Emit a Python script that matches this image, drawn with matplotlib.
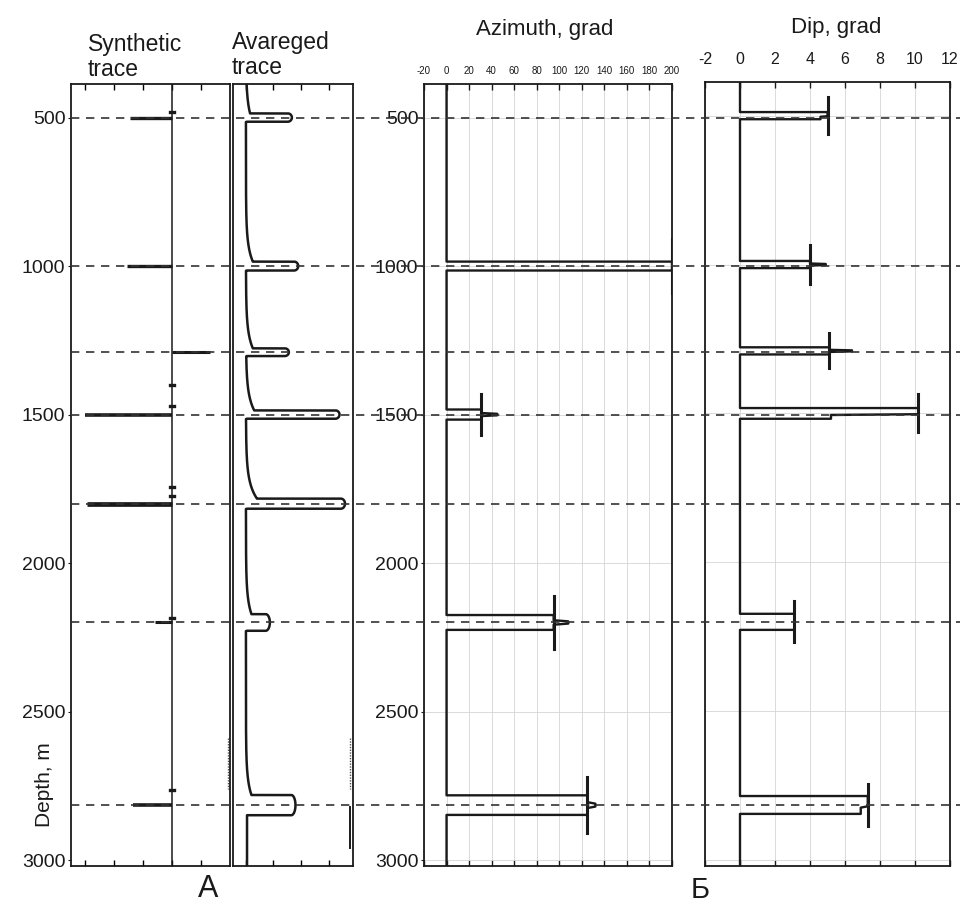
import numpy as np
import matplotlib
matplotlib.use("Agg")
import matplotlib.pyplot as plt
from matplotlib import transforms
from matplotlib.lines import Line2D

plt.rcParams['font.family'] = ['Liberation Sans', 'DejaVu Sans']
plt.rcParams['axes.unicode_minus'] = False

# ---------------- data ----------------
depth_ticks = [500, 1000, 1500, 2000, 2500, 3000]
horizon_depths = [500, 1000, 1290, 1500, 1800, 2200, 2815]

# synthetic trace: spike amplitude at each horizon
synth_amp = [-1.45, -1.55, 1.30, -3.00, -2.95, -0.60, -1.35]
synth_lw = [2.4, 2.4, 2.2, 2.6, 3.4, 2.2, 2.6]
synth_wiggle_depth = [480, 1400, 1470, 1745, 1775, 2185, 2765]
synth_wiggle_amp = [0.07, 0.08, 0.08, 0.08, 0.08, 0.06, 0.08]

# averaged trace
avg_amp = [1.67, 1.90, 1.56, 3.40, 3.60, 0.87, 1.80]
avg_halfwidth = [14, 15, 13, 14, 17, 28, 34]
avg_lead = [0.15, 0.25, 0.25, 0.30, 0.40, 0.20, 0.20]

# azimuth, grad
az_depth = [1000, 1500, 2200, 2815]
az_top = [200, 31, 95, 125]
az_bot = [200, 31, 95, 125]
az_tip = [200, 45, 108, 132]
az_halfwidth = [15, 17, 25, 33]
az_bar = [92, 69, 90, 95]

# dip, grad
dip_depth = [500, 1000, 1290, 1500, 2200, 2815]
dip_top = [5.0, 4.0, 5.1, 10.2, 3.1, 7.3]
dip_bot = [4.6, 4.0, 5.1, 5.2, 3.1, 6.9]
dip_tip = [5.0, 4.9, 6.4, 10.2, 3.1, 7.3]
dip_halfwidth = [12, 12, 12, 18, 27, 30]
dip_bar = [62, 67, 59, 64, 69, 72]

az_ticks = list(range(-20, 201, 20))
dip_ticks = list(range(-2, 13, 2))

YTOP, YBOT = 387, 3020
INK = '#1a1a1a'

W, H = 960, 908
fig = plt.figure(figsize=(W / 100, H / 100), dpi=100)


def px_axes(x0, x1, y0, y1):
    return fig.add_axes([x0 / W, 1 - y1 / H, (x1 - x0) / W, (y1 - y0) / H])


axA1 = px_axes(71, 230, 84, 866)
axA2 = px_axes(233, 353, 84, 866)
axB1 = px_axes(424, 672, 84, 866)
axB2 = px_axes(705, 950, 82, 866)

for ax in (axA1, axA2, axB1, axB2):
    ax.set_ylim(YBOT, YTOP)
    for s in ax.spines.values():
        s.set_linewidth(1.3)
        s.set_color(INK)

# ---- A1: synthetic trace ----
axA1.set_xlim(-3.5, 2.0)
axA1.plot([0, 0], [YTOP, YBOT], color=INK, lw=1.1)
for d, a, lw in zip(horizon_depths, synth_amp, synth_lw):
    axA1.plot([0, a], [d, d], color=INK, lw=lw, solid_capstyle='butt')
for d, a in zip(synth_wiggle_depth, synth_wiggle_amp):
    axA1.plot([-a, a], [d, d], color=INK, lw=2.4)
axA1.plot([1.92, 1.92], [2590, 2760], color='#555', lw=1.0, ls=(0, (1, 1)))

# ---- A2: averaged trace ----
axA2.set_xlim(-0.47, 3.89)
xs, ys = [], []
prev = YTOP
for d, P, w, lead in zip(horizon_depths, avg_amp, avg_halfwidth, avg_lead):
    seg = np.linspace(prev, d - w, 200)
    xs += list(lead * np.exp(-(d - w - seg) / 55.0))
    ys += list(seg)
    r = min(0.15, P / 3)
    th = np.linspace(np.pi / 2, -np.pi / 2, 30)
    xs += list(P - r + r * np.cos(th))
    ys += list(d - w * np.sin(th))
    xs += [0.04]
    ys += [d + w]
    prev = d + w + 1
seg = np.linspace(prev, YBOT, 50)
xs += [0.04] * len(seg)
ys += list(seg)
axA2.plot(xs, ys, color=INK, lw=1.8)
axA2.plot([3.78, 3.78], [2590, 2760], color='#555', lw=1.0, ls=(0, (1, 1)))
axA2.plot([3.78, 3.78], [2820, 2960], color=INK, lw=1.4)


# ---- B panels ----
def event_path(depths, tops, bots, tips, hws):
    px, py = [0], [YTOP]
    for d, t, b, tip, w in zip(depths, tops, bots, tips, hws):
        px += [0, t, t, tip, tip, b, b, 0]
        py += [d - w, d - w, d - 0.3 * w, d - 0.15 * w, d + 0.15 * w,
               d + 0.3 * w, d + w, d + w]
    px += [0]
    py += [YBOT]
    return px, py


def style_b(ax, ticks, fs, pad):
    ax.set_xticks(ticks)
    ax.grid(True, color='#d4d4d4', lw=0.6)
    ax.set_axisbelow(True)
    ax.tick_params(axis='x', direction='in', top=True, bottom=True,
                   labeltop=True, labelbottom=False, length=4, width=1.0,
                   labelsize=fs, pad=pad, colors=INK)


axB1.set_xlim(-20, 200)
style_b(axB1, az_ticks, 7, 6)
x, y = event_path(az_depth, az_top, az_bot, az_tip, az_halfwidth)
axB1.plot(x, y, color=INK, lw=1.7)
for d, t, b in zip(az_depth, az_top, az_bar):
    axB1.plot([t, t], [d - b, d + b], color=INK, lw=2.2)

axB2.set_xlim(-2, 12)
style_b(axB2, dip_ticks, 11.5, 11)
x, y = event_path(dip_depth, dip_top, dip_bot, dip_tip, dip_halfwidth)
axB2.plot(x, y, color=INK, lw=1.7)
for d, t, b in zip(dip_depth, dip_top, dip_bar):
    axB2.plot([t, t], [d - b, d + b], color=INK, lw=2.2)

# ---- y axes ----
for ax in (axA1, axB1):
    ax.set_yticks(depth_ticks)
    ax.tick_params(axis='y', direction='out', length=2, labelsize=14, pad=2,
                   colors=INK)
for ax in (axA2, axB2):
    ax.set_yticks(depth_ticks)
    ax.tick_params(axis='y', left=False, labelleft=False)

axA1.set_xticks([-3, -2, -1, 0, 1])
axA2.set_xticks([0, 1, 2, 3])
for ax in (axA1, axA2):
    ax.tick_params(axis='x', direction='in', top=True, bottom=True,
                   labelbottom=False, length=4, width=1.0)

# ---- horizon dashed lines across the whole figure ----
trans = transforms.blended_transform_factory(fig.transFigure, axA1.transData)
for d in horizon_depths:
    fig.add_artist(Line2D([71 / W, 1.0], [d, d], transform=trans,
                          color='#333333', lw=1.2, ls=(0, (5, 4))))

# ---- texts ----
def ftext(x, y, s, **kw):
    fig.text(x / W, 1 - y / H, s, color=INK, **kw)


ftext(88, 57, "Synthetic\ntrace", fontsize=16.5, ha='left', va='center',
      linespacing=1.12)
ftext(232, 55, "Avareged\ntrace", fontsize=16.5, ha='left', va='center',
      linespacing=1.12)
ftext(545, 30, "Azimuth, grad", fontsize=16, ha='center', va='center')
ftext(836, 28, "Dip, grad", fontsize=16, ha='center', va='center')
ftext(45, 785, "Depth, m", fontsize=15, ha='center', va='center',
      rotation=90)
ftext(208, 889, "A", fontsize=22, ha='center', va='center')
ftext(700, 890, "Б", fontsize=21, ha='center', va='center')

fig.savefig("out.png", dpi=100)
